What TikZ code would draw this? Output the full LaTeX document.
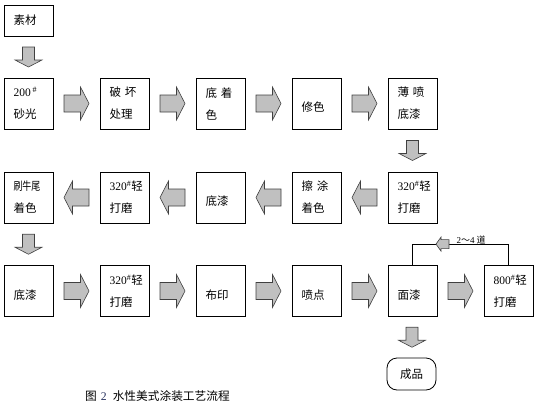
\documentclass[tikz,border=0pt]{standalone}
\usepackage{fontspec}
\setmainfont{Liberation Serif}
\newfontfamily\cjk{Noto Sans CJK SC}
\usepackage{tikz}
\usetikzlibrary{calc}
\definecolor{arrowGray}{RGB}{192,192,192}
\definecolor{arrowEdge}{RGB}{64,64,64}
\definecolor{captionBlue}{RGB}{40,50,95}
\newcommand{\grit}[1]{{\rmfamily #1\textsuperscript{\#}}}

\begin{document}
\begin{tikzpicture}[
  x=1pt, y=-1pt,
  stepBox/.style={draw, line width=0.8pt, minimum width=49pt, minimum height=51pt, inner xsep=9.5pt, text width=30pt, align=left, font=\cjk\fontsize{11.5}{22}\selectfont},
  lowText/.style={text height=18pt, text depth=1.4pt},
  arrowStyle/.style={draw=arrowEdge, fill=arrowGray, line width=0.6pt, line join=miter},
  hArrow/.pic={\draw[arrowStyle] (-12.5,-8.5) -- (4,-8.5) -- (4,-16.5) -- (12.5,0) -- (4,16.5) -- (4,8.5) -- (-12.5,8.5) -- cycle;},
  vArrow/.pic={\draw[arrowStyle] (-6,-10) -- (-6,3) -- (-13.5,3) -- (0,10) -- (13.5,3) -- (6,3) -- (6,-10) -- cycle;},
  smallArrow/.pic={\draw[arrowStyle] (-6.5,0) -- (-1.5,-7) -- (-1.5,-4.5) -- (6.5,-4.5) -- (6.5,4.5) -- (-1.5,4.5) -- (-1.5,7) -- cycle;}]

\useasboundingbox (0,0) rectangle (539,408);

\node [stepBox, minimum height=31pt] (raw) at (28.5,20.5) {素材};

\node [stepBox] (sand) at (28.5,103.5) {\grit{200\,}\\砂光};
\node [stepBox] (destroy) at (124.5,103.5) {破 坏\\处理};
\node [stepBox] (baseColor) at (220.5,103.5) {底 着\\色};
\node [stepBox, lowText] (touchUp) at (316.5,103.5) {修色};
\node [stepBox] (thinSeal) at (412.5,103.5) {薄 喷\\底漆};

\node [stepBox] (sandA) at (412.5,197.5) {\grit{320}轻\\打磨};
\node [stepBox] (rubColor) at (316.5,197.5) {擦 涂\\着色};
\node [stepBox, lowText] (sealB) at (220.5,197.5) {底漆};
\node [stepBox] (sandB) at (124.5,197.5) {\grit{320}轻\\打磨};
\node [stepBox] (oxtail) at (28.5,197.5) {\scalebox{0.78}[1]{刷牛尾}\\着色};

\node [stepBox, lowText] (sealC) at (28.5,291) {底漆};
\node [stepBox] (sandC) at (124.5,291) {\grit{320}轻\\打磨};
\node [stepBox, lowText] (printMark) at (220.5,291) {布印};
\node [stepBox, lowText] (spatter) at (316.5,291) {喷点};
\node [stepBox, lowText] (topCoat) at (412.5,291) {面漆};
\node [stepBox] (sandD) at (508.5,291) {\grit{800}轻\\打磨};

\node [draw, line width=0.8pt, rounded corners=10pt, minimum width=49pt, minimum height=32pt, font=\cjk\fontsize{11.5}{13}\selectfont] (done) at (411.5,374) {成品};

\pic at ($(raw.south)!0.5!(sand.north)$) {vArrow};
\pic at ($(sand.east)!0.5!(destroy.west)$) {hArrow};
\pic at ($(destroy.east)!0.5!(baseColor.west)$) {hArrow};
\pic at ($(baseColor.east)!0.5!(touchUp.west)$) {hArrow};
\pic at ($(touchUp.east)!0.5!(thinSeal.west)$) {hArrow};
\pic at ($(thinSeal.south)!0.5!(sandA.north)$) {vArrow};
\pic [xscale=-1] at ($(sandA.west)!0.5!(rubColor.east)$) {hArrow};
\pic [xscale=-1] at ($(rubColor.west)!0.5!(sealB.east)$) {hArrow};
\pic [xscale=-1] at ($(sealB.west)!0.5!(sandB.east)$) {hArrow};
\pic [xscale=-1] at ($(sandB.west)!0.5!(oxtail.east)$) {hArrow};
\pic at ($(oxtail.south)!0.5!(sealC.north)$) {vArrow};
\pic at ($(sealC.east)!0.5!(sandC.west)$) {hArrow};
\pic at ($(sandC.east)!0.5!(printMark.west)$) {hArrow};
\pic at ($(printMark.east)!0.5!(spatter.west)$) {hArrow};
\pic at ($(spatter.east)!0.5!(topCoat.west)$) {hArrow};
\pic at ($(topCoat.east)!0.5!(sandD.west)$) {hArrow};
\pic at ($(topCoat.south)!0.5!(done.north)$) {vArrow};

\draw [line width=0.8pt] (sandD.north) -- ++(0,-21) coordinate (loopCorner) -| (topCoat.north);
\pic at ($(loopCorner)+(-66,0)$) {smallArrow};
\node [anchor=west, inner sep=0pt, font=\cjk\fontsize{9}{10}\selectfont] (passes) at ($(loopCorner)+(-52,-4)$) {{\rmfamily 2}～{\rmfamily 4} 道};

\node [anchor=west, inner sep=0pt, font=\cjk\fontsize{11.7}{13}\selectfont] (caption) at (85,396) {图\hspace{4pt}{\rmfamily\color{captionBlue}2}\hspace{6pt}水性美式涂装工艺流程};
\end{tikzpicture}
\end{document}
